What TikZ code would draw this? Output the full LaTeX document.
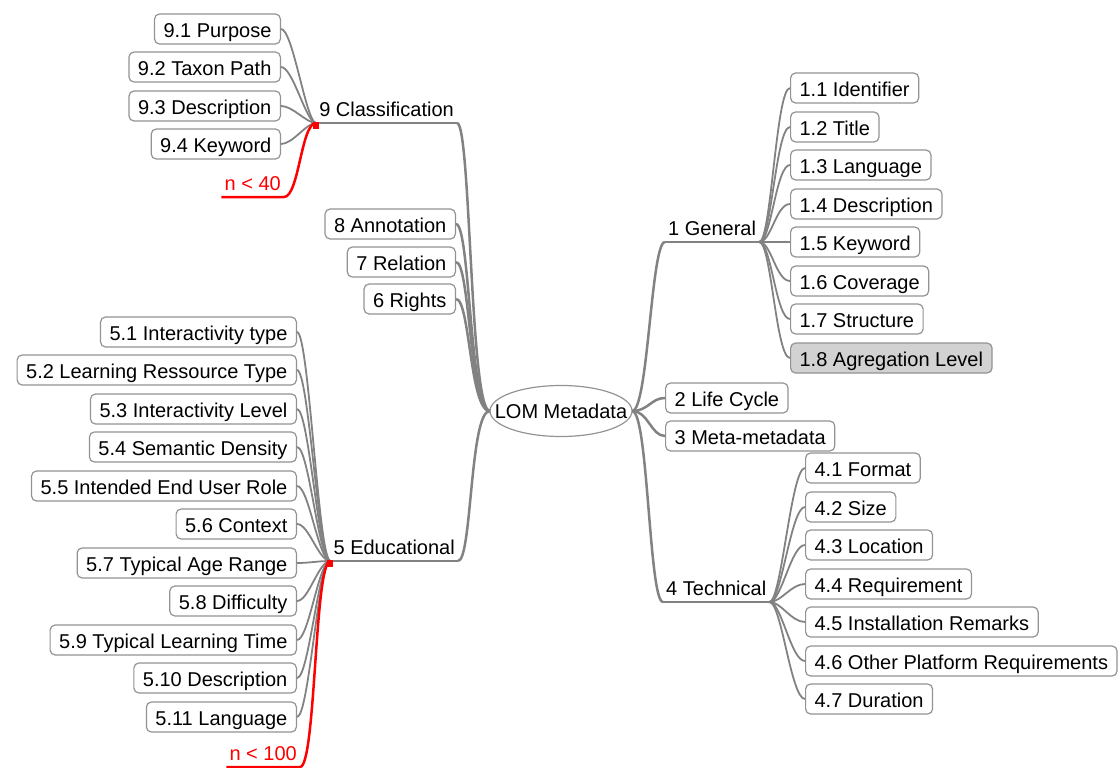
\documentclass[tikz,border=0pt]{standalone}
\usepackage{fontspec}
\setmainfont{Liberation Sans}
\definecolor{linegray}{HTML}{828282}
\definecolor{boxgray}{HTML}{939393}
\definecolor{selgray}{HTML}{D2D2D2}
\tikzset{
  box/.style={draw=boxgray, line width=1.2pt, rounded corners=5pt, fill=white,
    inner xsep=9pt, inner ysep=3pt, minimum height=30pt, text height=17pt, text depth=0pt},
  branch/.style={inner xsep=3pt, inner ysep=6pt, text height=15pt, text depth=0pt},
  root/.style={minimum width=142pt, minimum height=51pt, inner sep=0pt},
  edge/.style={draw=linegray, line width=1.8pt},
  mainedge/.style={draw=linegray, line width=2.5pt},
  rededge/.style={draw=red, line width=2.5pt}
}
\begin{document}
\begin{tikzpicture}[x=1pt,y=-1pt,font=\fontsize{20}{24}\selectfont]
      \useasboundingbox (0,0) rectangle (1120,768);
      %
      \node[root] (lom) at (561,411) {LOM Metadata};
      \draw[boxgray, line width=1.2pt] (lom.center) ellipse [x radius=71pt, y radius=25.5pt];
      %
      \node[branch, anchor=south west] (gen) at (665,242) {1 General};
      \node[box, anchor=west] (life) at (665,398) {2 Life Cycle};
      \node[box, anchor=west] (meta) at (665,436) {3 Meta-metadata};
      \node[branch, anchor=south west] (tech) at (663,602) {4 Technical};
      \node[branch, anchor=south east] (cls) at (457,123) {9 Classification};
      \node[box, anchor=east] (ann) at (456,224) {8 Annotation};
      \node[box, anchor=east] (rel) at (456,262) {7 Relation};
      \node[box, anchor=east] (rig) at (456,299) {6 Rights};
      \node[branch, anchor=south east] (edu) at (458,561) {5 Educational};
      %
      \node[box, anchor=west] (g1) at (790,88) {1.1 Identifier};
      \node[box, anchor=west] (g2) at (790,127) {1.2 Title};
      \node[box, anchor=west] (g3) at (790,165) {1.3 Language};
      \node[box, anchor=west] (g4) at (790,204) {1.4 Description};
      \node[box, anchor=west] (g5) at (790,242) {1.5 Keyword};
      \node[box, anchor=west] (g6) at (790,281) {1.6 Coverage};
      \node[box, anchor=west] (g7) at (790,319) {1.7 Structure};
      \node[box, anchor=west, fill=selgray] (g8) at (790,358) {1.8 Agregation Level};
      %
      \node[box, anchor=west] (t1) at (805,468) {4.1 Format};
      \node[box, anchor=west] (t2) at (805,507) {4.2 Size};
      \node[box, anchor=west] (t3) at (805,545) {4.3 Location};
      \node[box, anchor=west] (t4) at (805,584) {4.4 Requirement};
      \node[box, anchor=west] (t5) at (805,622) {4.5 Installation Remarks};
      \node[box, anchor=west] (t6) at (805,661) {4.6 Other Platform Requirements};
      \node[box, anchor=west] (t7) at (805,699) {4.7 Duration};
      %
      \node[box, anchor=east] (c1) at (281,29) {9.1 Purpose};
      \node[box, anchor=east] (c2) at (281,67) {9.2 Taxon Path};
      \node[box, anchor=east] (c3) at (281,106) {9.3 Description};
      \node[box, anchor=east] (c4) at (281,144) {9.4 Keyword};
      \node[branch, anchor=south east, text=red] (n40) at (284,197) {n < 40};
      %
      \node[box, anchor=east] (e1) at (297,332) {5.1 Interactivity type};
      \node[box, anchor=east] (e2) at (297,370) {5.2 Learning Ressource Type};
      \node[box, anchor=east] (e3) at (297,409) {5.3 Interactivity Level};
      \node[box, anchor=east] (e4) at (297,447) {5.4 Semantic Density};
      \node[box, anchor=east] (e5) at (297,486) {5.5 Intended End User Role};
      \node[box, anchor=east] (e6) at (297,524) {5.6 Context};
      \node[box, anchor=east] (e7) at (297,563) {5.7 Typical Age Range};
      \node[box, anchor=east] (e8) at (297,601) {5.8 Difficulty};
      \node[box, anchor=east] (e9) at (297,640) {5.9 Typical Learning Time};
      \node[box, anchor=east] (e10) at (297,678) {5.10 Description};
      \node[box, anchor=east] (e11) at (297,717) {5.11 Language};
      \node[branch, anchor=south east, text=red] (n100) at (300,767) {n < 100};
      %
      % root to main branches
      \draw[mainedge] (lom.east) .. controls +(16,0) and +(-14,0) .. (gen.south west);
      \draw[mainedge] (lom.east) .. controls +(16,0) and +(-14,0) .. (life.west);
      \draw[mainedge] (lom.east) .. controls +(16,0) and +(-14,0) .. (meta.west);
      \draw[mainedge] (lom.east) .. controls +(16,0) and +(-14,0) .. (tech.south west);
      \draw[mainedge] (lom.west) .. controls +(-20,0) and +(14,0) .. (cls.south east);
      \draw[mainedge] (lom.west) .. controls +(-20,0) and +(14,0) .. (ann.east);
      \draw[mainedge] (lom.west) .. controls +(-20,0) and +(14,0) .. (rel.east);
      \draw[mainedge] (lom.west) .. controls +(-20,0) and +(14,0) .. (rig.east);
      \draw[mainedge] (lom.west) .. controls +(-20,0) and +(14,0) .. (edu.south east);
      %
      \draw[mainedge] (gen.south west) -- (gen.south east);
      \draw[mainedge] (tech.south west) -- (tech.south east);
      \draw[mainedge] (cls.south west) -- (cls.south east);
      \draw[mainedge] (edu.south west) -- (edu.south east);
      %
      \draw[edge] (gen.south east) .. controls +(12,0) and +(-14,0) .. (g1.west);
      \draw[edge] (gen.south east) .. controls +(12,0) and +(-14,0) .. (g2.west);
      \draw[edge] (gen.south east) .. controls +(12,0) and +(-14,0) .. (g3.west);
      \draw[edge] (gen.south east) .. controls +(12,0) and +(-14,0) .. (g4.west);
      \draw[edge] (gen.south east) .. controls +(12,0) and +(-14,0) .. (g5.west);
      \draw[edge] (gen.south east) .. controls +(12,0) and +(-14,0) .. (g6.west);
      \draw[edge] (gen.south east) .. controls +(12,0) and +(-14,0) .. (g7.west);
      \draw[edge] (gen.south east) .. controls +(12,0) and +(-14,0) .. (g8.west);
      %
      \draw[edge] (tech.south east) .. controls +(12,0) and +(-14,0) .. (t1.west);
      \draw[edge] (tech.south east) .. controls +(12,0) and +(-14,0) .. (t2.west);
      \draw[edge] (tech.south east) .. controls +(12,0) and +(-14,0) .. (t3.west);
      \draw[edge] (tech.south east) .. controls +(12,0) and +(-14,0) .. (t4.west);
      \draw[edge] (tech.south east) .. controls +(12,0) and +(-14,0) .. (t5.west);
      \draw[edge] (tech.south east) .. controls +(12,0) and +(-14,0) .. (t6.west);
      \draw[edge] (tech.south east) .. controls +(12,0) and +(-14,0) .. (t7.west);
      %
      \draw[edge] (cls.south west) .. controls +(-10,0) and +(12,0) .. (c1.east);
      \draw[edge] (cls.south west) .. controls +(-10,0) and +(12,0) .. (c2.east);
      \draw[edge] (cls.south west) .. controls +(-10,0) and +(12,0) .. (c3.east);
      \draw[edge] (cls.south west) .. controls +(-10,0) and +(12,0) .. (c4.east);
      %
      \draw[edge] (edu.south west) .. controls +(-12,0) and +(12,0) .. (e1.east);
      \draw[edge] (edu.south west) .. controls +(-12,0) and +(12,0) .. (e2.east);
      \draw[edge] (edu.south west) .. controls +(-12,0) and +(12,0) .. (e3.east);
      \draw[edge] (edu.south west) .. controls +(-12,0) and +(12,0) .. (e4.east);
      \draw[edge] (edu.south west) .. controls +(-12,0) and +(12,0) .. (e5.east);
      \draw[edge] (edu.south west) .. controls +(-12,0) and +(12,0) .. (e6.east);
      \draw[edge] (edu.south west) .. controls +(-12,0) and +(12,0) .. (e7.east);
      \draw[edge] (edu.south west) .. controls +(-12,0) and +(12,0) .. (e8.east);
      \draw[edge] (edu.south west) .. controls +(-12,0) and +(12,0) .. (e9.east);
      \draw[edge] (edu.south west) .. controls +(-12,0) and +(12,0) .. (e10.east);
      \draw[edge] (edu.south west) .. controls +(-12,0) and +(12,0) .. (e11.east);
      %
      \draw[rededge] (cls.south west) .. controls +(-15,0) and +(15,0) .. (n40.south east) -- (n40.south west);
      \draw[rededge] (edu.south west) .. controls +(-16,0) and +(16,0) .. (n100.south east) -- (n100.south west);
      \fill[red] (cls.south west) ++(-3,-1) rectangle ++(6,7);
      \fill[red] (edu.south west) ++(-3,-1) rectangle ++(6,7);
\end{tikzpicture}
\end{document}
